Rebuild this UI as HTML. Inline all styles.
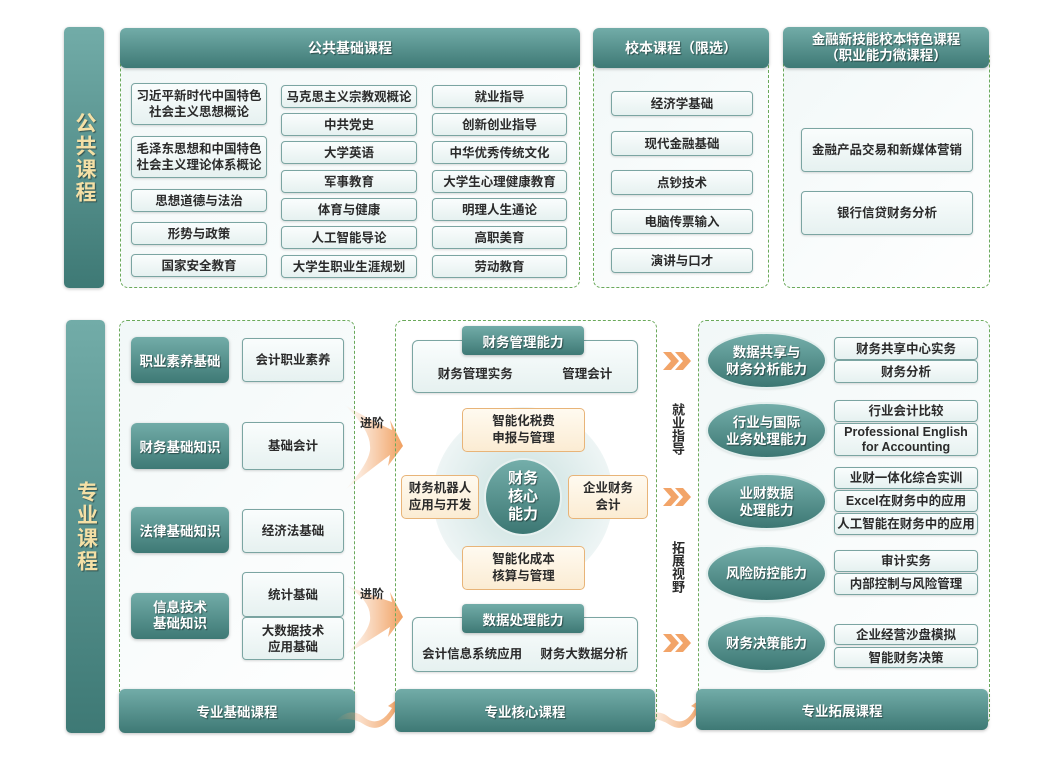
<!DOCTYPE html>
<html><head><meta charset="utf-8"><style>
*{box-sizing:border-box;margin:0;padding:0}
body{width:1046px;height:760px;background:#fff;position:relative;overflow:hidden;font-family:"Liberation Sans","Noto Sans CJK SC",sans-serif;font-weight:bold;color:#2b2b2b}
.a{position:absolute;display:flex;align-items:center;justify-content:center;text-align:center}
.dk{background:linear-gradient(180deg,#72aca8,#3e7975);color:#fff;border-radius:6px;text-shadow:1px 1px 1px rgba(0,0,0,.45);box-shadow:0 1px 3px rgba(0,0,0,.25)}
.bx{background:linear-gradient(180deg,#fafdfd,#e6f1f0);border:1.5px solid #7ba5a2;border-radius:4px;font-size:12.5px;line-height:16px;box-shadow:0 1px 2px rgba(0,0,0,.15)}
.dash{position:absolute;border:1.3px dashed #6aa95a;border-radius:8px;background:linear-gradient(135deg,#f2f8f8,#fff)}
.or{background:linear-gradient(180deg,#fffaf0,#fbecd3);border:1.5px solid #e8b478;border-radius:5px;font-size:12.5px;line-height:17px}
.el{border-radius:50%;background:linear-gradient(180deg,#74aeaa,#3c7773);color:#fff;font-size:13.5px;line-height:17px;text-shadow:1px 1px 1px rgba(0,0,0,.45);box-shadow:0 0 0 2px #e4efee,0 1px 3px rgba(0,0,0,.3)}
.vt{color:#f4e0a6;font-size:21px;line-height:32px;writing-mode:vertical-rl;letter-spacing:2px}
.vs{position:absolute;writing-mode:vertical-rl;font-size:13px;line-height:13px;color:#2b2b2b}
</style></head><body>
<!-- top -->
<div class="a dk" style="left:64px;top:27px;width:40px;height:261px;border-radius:5px"><span class="vt">公共课程</span></div>
<div class="dash" style="left:120px;top:50px;width:460px;height:238px"></div>
<div class="a dk" style="left:120px;top:28px;width:460px;height:40px;font-size:14px">公共基础课程</div>
<div class="a bx" style="left:131px;top:83px;width:136px;height:42px">习近平新时代中国特色<br>社会主义思想概论</div>
<div class="a bx" style="left:131px;top:136px;width:136px;height:42px">毛泽东思想和中国特色<br>社会主义理论体系概论</div>
<div class="a bx" style="left:131px;top:189px;width:136px;height:23px">思想道德与法治</div>
<div class="a bx" style="left:131px;top:222px;width:136px;height:23px">形势与政策</div>
<div class="a bx" style="left:131px;top:254px;width:136px;height:23px">国家安全教育</div>
<div class="a bx" style="left:281px;top:85px;width:136px;height:23px">马克思主义宗教观概论</div>
<div class="a bx" style="left:281px;top:113px;width:136px;height:23px">中共党史</div>
<div class="a bx" style="left:281px;top:141px;width:136px;height:23px">大学英语</div>
<div class="a bx" style="left:281px;top:170px;width:136px;height:23px">军事教育</div>
<div class="a bx" style="left:281px;top:198px;width:136px;height:23px">体育与健康</div>
<div class="a bx" style="left:281px;top:226px;width:136px;height:23px">人工智能导论</div>
<div class="a bx" style="left:281px;top:255px;width:136px;height:23px">大学生职业生涯规划</div>
<div class="a bx" style="left:432px;top:85px;width:135px;height:23px">就业指导</div>
<div class="a bx" style="left:432px;top:113px;width:135px;height:23px">创新创业指导</div>
<div class="a bx" style="left:432px;top:141px;width:135px;height:23px">中华优秀传统文化</div>
<div class="a bx" style="left:432px;top:170px;width:135px;height:23px">大学生心理健康教育</div>
<div class="a bx" style="left:432px;top:198px;width:135px;height:23px">明理人生通论</div>
<div class="a bx" style="left:432px;top:226px;width:135px;height:23px">高职美育</div>
<div class="a bx" style="left:432px;top:255px;width:135px;height:23px">劳动教育</div>

<div class="dash" style="left:593px;top:50px;width:176px;height:238px"></div>
<div class="a dk" style="left:593px;top:28px;width:176px;height:40px;font-size:14px">校本课程（限选）</div>
<div class="a bx" style="left:611px;top:91px;width:142px;height:25px">经济学基础</div>
<div class="a bx" style="left:611px;top:131px;width:142px;height:25px">现代金融基础</div>
<div class="a bx" style="left:611px;top:170px;width:142px;height:25px">点钞技术</div>
<div class="a bx" style="left:611px;top:209px;width:142px;height:25px">电脑传票输入</div>
<div class="a bx" style="left:611px;top:248px;width:142px;height:25px">演讲与口才</div>

<div class="dash" style="left:783px;top:50px;width:207px;height:238px"></div>
<div class="a dk" style="left:783px;top:27px;width:206px;height:41px;font-size:13.5px;line-height:16px">金融新技能校本特色课程<br>（职业能力微课程）</div>
<div class="a bx" style="left:801px;top:128px;width:172px;height:44px">金融产品交易和新媒体营销</div>
<div class="a bx" style="left:801px;top:191px;width:172px;height:44px">银行信贷财务分析</div>

<!-- bottom -->
<div class="a dk" style="left:66px;top:320px;width:39px;height:413px;border-radius:5px"><span class="vt">专业课程</span></div>
<div class="dash" style="left:119px;top:320px;width:236px;height:405px"></div>
<div class="a dk" style="left:119px;top:689px;width:236px;height:44px;font-size:13.5px">专业基础课程</div>
<div class="a dk" style="left:131px;top:337px;width:98px;height:46px;font-size:13.5px">职业素养基础</div>
<div class="a dk" style="left:131px;top:423px;width:98px;height:46px;font-size:13.5px">财务基础知识</div>
<div class="a dk" style="left:131px;top:507px;width:98px;height:46px;font-size:13.5px">法律基础知识</div>
<div class="a dk" style="left:131px;top:593px;width:98px;height:46px;font-size:13.5px;line-height:16px">信息技术<br>基础知识</div>
<div class="a bx" style="left:242px;top:338px;width:102px;height:44px">会计职业素养</div>
<div class="a bx" style="left:242px;top:422px;width:102px;height:48px">基础会计</div>
<div class="a bx" style="left:242px;top:509px;width:102px;height:44px">经济法基础</div>
<div class="a bx" style="left:242px;top:572px;width:102px;height:45px">统计基础</div>
<div class="a bx" style="left:242px;top:617px;width:102px;height:43px">大数据技术<br>应用基础</div>

<svg style="position:absolute;left:0;top:0" width="1046" height="760">
<defs><linearGradient id="og" x1="0" x2="1"><stop offset="0" stop-color="#f3a870" stop-opacity="0"/><stop offset="1" stop-color="#f0a060"/></linearGradient></defs>
<path d="M345 405 Q370 420 392 430 L390 420 L403 446 L388 466 L390 455 Q370 470 345 490 Q372 460 370 446 Q370 430 345 405Z" fill="url(#og)"/>
<path d="M345 585 Q370 595 392 602 L390 592 L403 617 L388 637 L390 627 Q370 640 345 655 Q372 630 370 616 Q370 600 345 585Z" fill="url(#og)"/>
<path d="M335 722 Q350 705 365 718 Q380 728 392 708 L388 706 L402 696 L400 713 L396 710 Q382 735 365 725 Q350 715 335 722Z" fill="url(#og)"/>
<path d="M640 722 Q655 705 670 718 Q685 728 695 708 L691 706 L705 696 L703 713 L699 710 Q686 735 670 725 Q655 715 640 722Z" fill="url(#og)"/>
<g fill="#f2a468">
<path d="M663 352h8l8 9-8 9h-8l8-9z"/><path d="M675 352h8l8 9-8 9h-8l8-9z"/>
<path d="M663 488h8l8 9-8 9h-8l8-9z"/><path d="M675 488h8l8 9-8 9h-8l8-9z"/>
<path d="M663 634h8l8 9-8 9h-8l8-9z"/><path d="M675 634h8l8 9-8 9h-8l8-9z"/>
</g>
<defs><radialGradient id="cg"><stop offset="0.4" stop-color="#d7e8e7"/><stop offset="1" stop-color="#eef5f5"/></radialGradient></defs>
<circle cx="523" cy="497" r="90" fill="url(#cg)"/>
</svg>
<div class="a" style="left:360px;top:414px;font-size:12px">进阶</div>
<div class="a" style="left:360px;top:585px;font-size:12px">进阶</div>

<div class="dash" style="left:395px;top:320px;width:262px;height:405px;background:transparent"></div>
<div class="a dk" style="left:395px;top:689px;width:260px;height:43px;font-size:13.5px">专业核心课程</div>
<div class="a bx" style="left:412px;top:340px;width:226px;height:53px;justify-content:space-around;padding-top:14px;border-radius:6px"><span>财务管理实务</span><span>管理会计</span></div>
<div class="a dk" style="left:462px;top:326px;width:122px;height:29px;font-size:13.5px;border-radius:4px">财务管理能力</div>
<div class="a bx" style="left:412px;top:617px;width:226px;height:55px;justify-content:space-around;padding-top:18px;border-radius:6px"><span>会计信息系统应用</span><span>财务大数据分析</span></div>
<div class="a dk" style="left:462px;top:604px;width:122px;height:29px;font-size:13.5px;border-radius:4px">数据处理能力</div>
<div class="a" style="left:486px;top:460px;width:74px;height:74px;border-radius:50%;background:linear-gradient(180deg,#74aeaa,#3c7773);box-shadow:0 0 0 2px #e8f1f0;color:#fff;font-size:15px;line-height:18px;text-shadow:1px 1px 1px rgba(0,0,0,.45)">财务<br>核心<br>能力</div>
<div class="a or" style="left:462px;top:408px;width:123px;height:44px">智能化税费<br>申报与管理</div>
<div class="a or" style="left:401px;top:475px;width:78px;height:44px">财务机器人<br>应用与开发</div>
<div class="a or" style="left:568px;top:475px;width:80px;height:44px">企业财务<br>会计</div>
<div class="a or" style="left:462px;top:546px;width:123px;height:44px">智能化成本<br>核算与管理</div>
<div class="vs" style="left:671px;top:403px">就业指导</div>
<div class="vs" style="left:671px;top:541px">拓展视野</div>

<div class="dash" style="left:698px;top:320px;width:292px;height:405px"></div>
<div class="a dk" style="left:696px;top:689px;width:292px;height:41px;font-size:13.5px">专业拓展课程</div>
<div class="a el" style="left:708px;top:334px;width:117px;height:53px">数据共享与<br>财务分析能力</div>
<div class="a el" style="left:708px;top:404px;width:117px;height:53px">行业与国际<br>业务处理能力</div>
<div class="a el" style="left:708px;top:475px;width:117px;height:53px">业财数据<br>处理能力</div>
<div class="a el" style="left:708px;top:547px;width:117px;height:53px">风险防控能力</div>
<div class="a el" style="left:708px;top:617px;width:117px;height:53px">财务决策能力</div>
<div class="a bx" style="left:834px;top:337px;width:144px;height:23px">财务共享中心实务</div>
<div class="a bx" style="left:834px;top:360px;width:144px;height:23px">财务分析</div>
<div class="a bx" style="left:834px;top:400px;width:144px;height:22px">行业会计比较</div>
<div class="a bx" style="left:834px;top:423px;width:144px;height:33px;font-size:12.5px;line-height:15px">Professional English<br>for Accounting</div>
<div class="a bx" style="left:834px;top:467px;width:144px;height:22px">业财一体化综合实训</div>
<div class="a bx" style="left:834px;top:490px;width:144px;height:22px">Excel在财务中的应用</div>
<div class="a bx" style="left:834px;top:513px;width:144px;height:22px">人工智能在财务中的应用</div>
<div class="a bx" style="left:834px;top:550px;width:144px;height:22px">审计实务</div>
<div class="a bx" style="left:834px;top:573px;width:144px;height:22px">内部控制与风险管理</div>
<div class="a bx" style="left:834px;top:624px;width:144px;height:21px">企业经营沙盘模拟</div>
<div class="a bx" style="left:834px;top:647px;width:144px;height:21px">智能财务决策</div>
</body></html>
